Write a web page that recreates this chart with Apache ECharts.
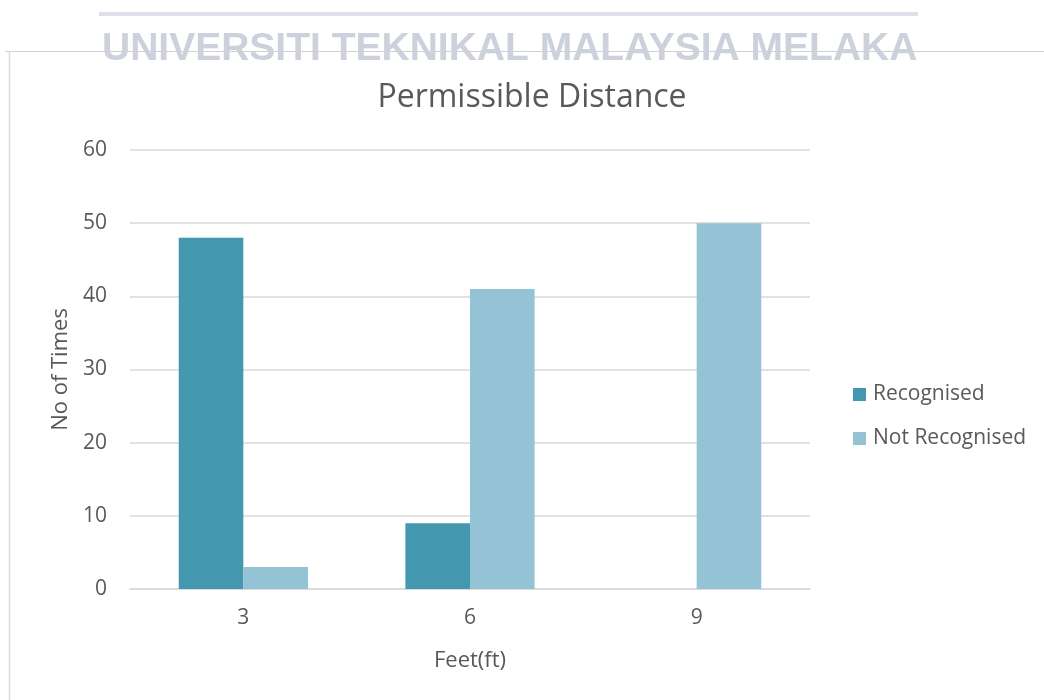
<!DOCTYPE html>
<html><head><meta charset="utf-8">
<script src="https://cdn.jsdelivr.net/npm/echarts@6/dist/echarts.min.js"></script>
<style>html,body{margin:0;padding:0;background:#fff}#c{width:1044px;height:700px}</style>
</head><body><div id="c"></div>
<script>
var categories = ['3', '6', '9'];
var recognised = [48, 9, 0];
var notRecognised = [3, 41, 50];
var seriesNames = ['Recognised', 'Not Recognised'];
var watermark = 'UNIVERSITI TEKNIKAL MALAYSIA MELAKA';

var chart = echarts.init(document.getElementById('c'), null, {renderer: 'canvas'});
var txt = '#595959';
var font = '"Open Sans", "Noto Sans", sans-serif';
chart.setOption({
  animation: false,
  backgroundColor: '#fff',
  title: {
    text: 'Permissible Distance', left: 527, top: 77, textAlign: 'center',
    textStyle: {fontFamily: font, fontSize: 32, fontWeight: 'normal', color: txt}
  },
  legend: {
    orient: 'vertical', left: 848, top: 379, itemGap: 23, itemWidth: 13, itemHeight: 13,
    icon: 'rect',
    textStyle: {fontFamily: font, fontSize: 21, color: txt, padding: [0,0,0,2]},
    data: seriesNames
  },
  grid: {left: 130, right: 234, top: 150, bottom: 111, containLabel: false},
  xAxis: {
    type: 'category', data: categories,
    name: 'Feet(ft)', nameLocation: 'middle', nameGap: 61,
    nameTextStyle: {fontFamily: font, fontSize: 22, color: txt},
    axisLine: {lineStyle: {color: '#d9d9d9', width: 1.5}},
    axisTick: {show: false},
    axisLabel: {fontFamily: font, fontSize: 21, color: txt, margin: 19}
  },
  yAxis: {
    type: 'value', min: 0, max: 60, interval: 10,
    name: 'No of Times', nameLocation: 'middle', nameGap: 58, nameRotate: 90,
    nameTextStyle: {fontFamily: font, fontSize: 22, color: txt},
    axisLine: {show: false}, axisTick: {show: false},
    axisLabel: {fontFamily: font, fontSize: 21, color: txt, margin: 23},
    splitLine: {lineStyle: {color: '#d9d9d9', width: 1.5}}
  },
  series: [
    {name: seriesNames[0], type: 'bar', data: recognised, barGap: '0%', barCategoryGap: '43%',
     itemStyle: {color: '#4398B0'}},
    {name: seriesNames[1], type: 'bar', data: notRecognised, barGap: '0%', barCategoryGap: '43%',
     itemStyle: {color: '#93C3D4'}}
  ],
  graphic: [
    {type: 'line', shape: {x1: 99, y1: 14, x2: 918, y2: 14}, style: {stroke: '#dde0ea', lineWidth: 4}, silent: true},
    {type: 'line', shape: {x1: 5, y1: 51.5, x2: 1044, y2: 51.5}, style: {stroke: '#d0d0d0', lineWidth: 1}, silent: true},
    {type: 'line', shape: {x1: 9.5, y1: 51, x2: 9.5, y2: 700}, style: {stroke: '#d9d9d9', lineWidth: 1.5}, silent: true},
    {type: 'text', left: 102, top: 30, style: {text: watermark, fill: '#cdd1db', fontFamily: '"Liberation Sans", Arial, sans-serif', fontWeight: 'bold', fontSize: 39}, silent: true}
  ]
});
</script></body></html>
